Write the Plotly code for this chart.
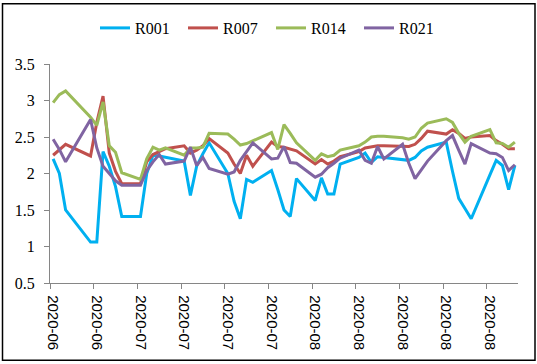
import plotly.graph_objects as go
import pandas as pd

dates = [
    "2020-06-22", "2020-06-23", "2020-06-24", "2020-06-28", "2020-06-29", "2020-06-30",
    "2020-07-01", "2020-07-02", "2020-07-03", "2020-07-06", "2020-07-07", "2020-07-08",
    "2020-07-09", "2020-07-10", "2020-07-13", "2020-07-14", "2020-07-15", "2020-07-16",
    "2020-07-17", "2020-07-20", "2020-07-21", "2020-07-22", "2020-07-23", "2020-07-24",
    "2020-07-27", "2020-07-28", "2020-07-29", "2020-07-30", "2020-07-31",
    "2020-08-03", "2020-08-04", "2020-08-05", "2020-08-06", "2020-08-07",
    "2020-08-10", "2020-08-11", "2020-08-12", "2020-08-13", "2020-08-14",
    "2020-08-17", "2020-08-18", "2020-08-19", "2020-08-20", "2020-08-21",
    "2020-08-24", "2020-08-25", "2020-08-26", "2020-08-27", "2020-08-28",
    "2020-08-31", "2020-09-01", "2020-09-02", "2020-09-03", "2020-09-04",
]

r001 = [2.20, 2.00, 1.50, 1.06, 1.06, 2.30,
        2.10, 1.82, 1.41, 1.41, 2.00, 2.25, 2.24, 2.22,
        2.17, 1.70, 2.10, 2.27, 2.42, 2.00, 1.62, 1.38, 1.92, 1.88,
        2.04, 1.78, 1.50, 1.41, 1.93,
        1.63, 1.94, 1.72, 1.72, 2.13, 2.22, 2.28, 2.15, 2.23, 2.22,
        2.19, 2.18, 2.22, 2.31, 2.36, 2.43, 2.03, 1.66, 1.52, 1.38,
        1.98, 2.18, 2.11, 1.78, 2.11]

r007 = [2.25, 2.33, 2.40, 2.24, 2.70, 3.06,
        2.28, 2.03, 1.86, 1.86, 2.16, 2.26, 2.30, 2.34,
        2.38, 2.28, 2.32, 2.38, 2.48, 2.28, 2.13, 2.00, 2.25, 2.10,
        2.43, 2.37, 2.36, 2.34, 2.31,
        2.13, 2.19, 2.13, 2.17, 2.23, 2.30, 2.35, 2.37, 2.38, 2.38,
        2.38, 2.37, 2.40, 2.48, 2.58, 2.54, 2.60, 2.55, 2.48, 2.50,
        2.52, 2.45, 2.40, 2.34, 2.34]

r014 = [2.97, 3.08, 3.13, 2.77, 2.66, 2.98,
        2.38, 2.29, 2.01, 1.92, 2.20, 2.36, 2.32, 2.35,
        2.25, 2.35, 2.35, 2.36, 2.55, 2.54, 2.47, 2.39, 2.41, 2.45,
        2.56, 2.33, 2.67, 2.55, 2.42,
        2.18, 2.27, 2.23, 2.25, 2.32, 2.38, 2.43, 2.50, 2.51, 2.51,
        2.49, 2.47, 2.50, 2.62, 2.69, 2.75, 2.70, 2.55, 2.43, 2.51,
        2.60, 2.42, 2.41, 2.36, 2.43]

r021 = [2.47, 2.33, 2.16, 2.74, 2.35, 2.10,
        2.00, 1.90, 1.84, 1.84, 2.04, 2.16, 2.26, 2.13,
        2.17, 2.36, 2.11, 2.22, 2.07, 1.99, 2.02, 2.18, 2.30, 2.42,
        2.20, 2.21, 2.37, 2.15, 2.14,
        1.95, 1.99, 2.08, 2.14, 2.21, 2.32, 2.18, 2.14, 2.37, 2.20,
        2.40, 2.14, 1.93, 2.05, 2.17, 2.45, 2.52, 2.32, 2.13, 2.41,
        2.28, 2.27, 2.22, 2.04, 2.12]

series_names = ["R001", "R007", "R014", "R021"]
series_colors = ["#00B0F0", "#C0504D", "#9BBB59", "#8064A2"]
series_values = [r001, r007, r014, r021]

W, H = 537, 364
ML, MR, MT, MB = 50, 19, 63, 81

fig = go.Figure()
for name, col, vals in zip(series_names, series_colors, series_values):
    fig.add_trace(go.Scatter(x=dates, y=vals, mode="lines", name=name,
                             line=dict(color=col, width=3)))

start = pd.Timestamp(dates[0]) - pd.Timedelta(hours=12)
end = pd.Timestamp(dates[-1]) + pd.Timedelta(hours=12)
label_days = [pd.Timestamp(dates[0]) + pd.Timedelta(days=7 * k) for k in range(11)]
bound_days = [start + pd.Timedelta(days=7 * k) for k in range(11)]

axis_gray = "#868686"
fig.update_xaxes(
    type="date", range=[start, end],
    tickmode="array", tickvals=label_days,
    ticktext=[d.strftime("%Y-%m") for d in label_days],
    ticks="", tickangle=90, ticklabelstandoff=8,
    tickfont=dict(family="Liberation Sans, Arial, sans-serif", size=15, color="#000"),
    showline=True, linecolor=axis_gray, linewidth=1.3,
    showgrid=False, zeroline=False,
    minor=dict(tickmode="array", tickvals=bound_days, ticks="outside",
               ticklen=5, tickcolor=axis_gray, tickwidth=1.3, showgrid=False),
)
fig.update_yaxes(
    range=[0.5, 3.5], tickmode="linear", tick0=0.5, dtick=0.5,
    ticks="outside", ticklen=5, tickcolor=axis_gray, tickwidth=1.3,
    ticklabelstandoff=6,
    tickfont=dict(family="Liberation Serif, Times New Roman, serif", size=16, color="#000"),
    showline=True, linecolor=axis_gray, linewidth=1.3,
    showgrid=False, zeroline=False,
)

pw, ph = W - ML - MR, H - MT - MB
def px_x(p):
    return (p - ML) / pw
def px_y(p):
    return (H - MB - p) / ph

fig.add_shape(type="rect", xref="paper", yref="paper",
              x0=px_x(2.5), x1=px_x(535), y0=px_y(360.5), y1=px_y(2.5),
              line=dict(color="#000", width=1.5), fillcolor="rgba(0,0,0,0)")

fig.update_layout(
    width=W, height=H,
    margin=dict(l=ML, r=MR, t=MT, b=MB),
    paper_bgcolor="white", plot_bgcolor="white",
    showlegend=True,
    legend=dict(orientation="h", x=px_x(271), xanchor="center",
                y=px_y(28), yanchor="middle",
                font=dict(family="Liberation Serif, Times New Roman, serif", size=16, color="#000"),
                itemwidth=30, tracegroupgap=0,
                entrywidth=43, entrywidthmode="pixels"),
)

fig.write_html("out.html", config={"displayModeBar": False},
               post_script="document.body.style.margin='0';document.body.style.overflow='hidden';")
